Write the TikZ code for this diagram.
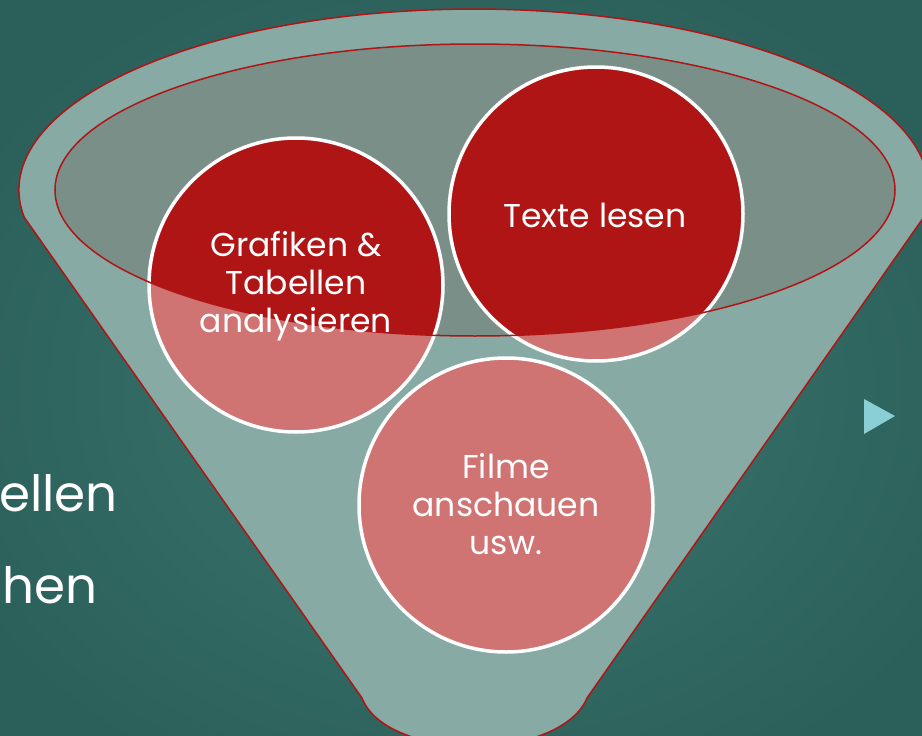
\documentclass[tikz,border=0pt]{standalone}
\usepackage{fontspec}
\setmainfont{Poppins}
\definecolor{bginner}{HTML}{3C776F}
\definecolor{bgouter}{HTML}{2B5F5A}
\definecolor{funnelfill}{HTML}{87AAA5}
\definecolor{innerfill}{HTML}{7B8F89}
\definecolor{darkred}{HTML}{B01515}
\definecolor{pinkred}{HTML}{D07373}
\definecolor{tri}{HTML}{8ACFD6}
\tikzset{
  bubble/.style={circle, minimum size=294pt, inner sep=0pt, fill=pinkred, draw=white, line width=3.5pt},
  bubbletext/.style={text=white, align=center, inner sep=0pt, font=\fontsize{33}{38}\selectfont},
  slidetext/.style={text=white, inner sep=0pt, font=\fontsize{50}{60}\selectfont},
  outline/.style={draw=darkred, line width=1.5pt}
}
\begin{document}
\begin{tikzpicture}[x=1pt,y=-1pt]
\path[use as bounding box] (0,0) rectangle (922,736);
\clip (0,0) rectangle (922,736);
\shade[inner color=bginner, outer color=bgouter] (-100,-60) rectangle (1022,836);
% funnel body
\path[fill=funnelfill, outline]
  (24.1,217.1) arc[start angle=171.4, end angle=368.6, x radius=455, y radius=181]
  -- (587,698) .. controls (575,727) and (530,746) .. (474,746)
  .. controls (418,746) and (373,727) .. (362,698) -- cycle;
% inner ellipse
\fill[innerfill] (475,190) ellipse[x radius=420, y radius=146];
% circles
\node[bubble] (c1) at (296,285) {};
\node[bubble] (c2) at (596,214) {};
\node[bubble] (c3) at (506,505) {};
\begin{scope}
  \clip (475,190) ellipse[x radius=420, y radius=146];
  \fill[darkred] (c1.center) circle[radius=145];
  \fill[darkred] (c2.center) circle[radius=145];
  \fill[darkred] (c3.center) circle[radius=145];
\end{scope}
\draw[outline] (475,190) ellipse[x radius=420, y radius=146];
% texts
\node[bubbletext] (t1) at (296,286) {Grafiken \&\\Tabellen\\analysieren};
\node[bubbletext, anchor=base] (t2) at (595,227) {Texte lesen};
\node[bubbletext] (t3) at (506,504) {Filme\\anschauen\\usw.};
\node[slidetext, anchor=base east] (s1) at (118,511) {ellen};
\node[slidetext, anchor=base east] (s2) at (98,603) {hen};
% bullet triangle
\fill[tri] (864,399) -- (895,416) -- (864,434) -- cycle;
\end{tikzpicture}
\end{document}
